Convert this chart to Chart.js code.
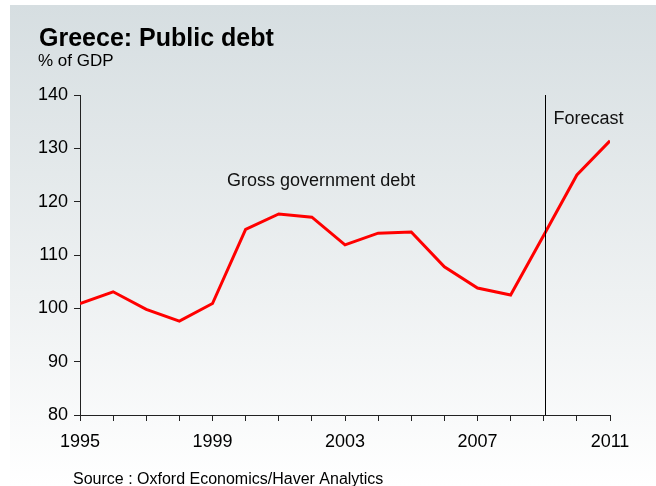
<!DOCTYPE html>
<html>
<head>
<meta charset="utf-8">
<title>Greece: Public debt</title>
<script src="https://cdn.jsdelivr.net/npm/chart.js@4.4.1/dist/chart.umd.min.js"></script>
<style>
  html, body { margin: 0; padding: 0; background: #fff; }
  #wrap { position: relative; width: 656px; height: 486px; overflow: hidden; }
  #bg {
    position: absolute; left: 10px; top: 5px; right: 0; bottom: 0;
    background: linear-gradient(to bottom, #d6dee1 0%, #eef1f2 60%, #ffffff 100%);
  }
  #chart { position: absolute; left: 0; top: 0; }
</style>
</head>
<body>
<div id="wrap">
  <div id="bg"></div>
  <canvas id="chart" width="656" height="486"></canvas>
</div>
<script>
// Gross government debt, % of GDP
const years = [1995, 1996, 1997, 1998, 1999, 2000, 2001, 2002, 2003, 2004, 2005, 2006, 2007, 2008, 2009, 2010, 2011];
const debt = [100.9, 103.1, 99.8, 97.6, 100.9, 114.8, 117.7, 117.1, 111.9, 114.1, 114.3, 107.8, 103.8, 102.5, 113.7, 125.0, 131.4];
const labelYears = [1995, 1999, 2003, 2007, 2011];
const forecastStart = 2009.04;

const FONT = '"Liberation Sans", Arial, sans-serif';

// titles, notes and the forecast divider
const textPlugin = {
  id: 'texts',
  afterDraw(chart) {
    const ctx = chart.ctx;
    const x = chart.scales.x;
    const y = chart.scales.y;
    ctx.save();
    ctx.fillStyle = '#000';
    ctx.textBaseline = 'alphabetic';
    ctx.textAlign = 'left';

    ctx.font = 'bold 25px ' + FONT;
    ctx.fillText('Greece: Public debt', 39, 46);
    ctx.font = '17px ' + FONT;
    ctx.fillText('% of GDP', 38, 66);
    ctx.font = '16px ' + FONT;
    ctx.fillText('Source : Oxford Economics/Haver Analytics', 73, 484);

    // forecast line
    const fx = Math.round(x.getPixelForValue(forecastStart)) + 0.5;
    ctx.strokeStyle = '#000';
    ctx.lineWidth = 1;
    ctx.beginPath();
    ctx.moveTo(fx, chart.chartArea.top);
    ctx.lineTo(fx, chart.chartArea.bottom);
    ctx.stroke();

    ctx.font = '18px ' + FONT;
    ctx.fillStyle = '#111';
    ctx.fillText('Forecast', fx + 8, y.getPixelForValue(134.6));
    ctx.fillText('Gross government debt', x.getPixelForValue(1999.44), y.getPixelForValue(122.9));
    ctx.restore();
  }
};

new Chart(document.getElementById('chart'), {
  type: 'line',
  data: {
    datasets: [{
      data: years.map((yr, i) => ({ x: yr, y: debt[i] })),
      borderColor: '#ff0000',
      borderWidth: 3,
      pointRadius: 0,
      tension: 0,
      fill: false
    }]
  },
  options: {
    responsive: false,
    animation: false,
    devicePixelRatio: 1,
    layout: { padding: { left: 10, right: 46, top: 95, bottom: 0 } },
    plugins: {
      legend: { display: false },
      tooltip: { enabled: false }
    },
    scales: {
      x: {
        type: 'linear',
        min: 1995,
        max: 2011,
        afterFit: s => { s.height = 71; },
        border: { color: '#222', width: 1 },
        grid: { drawOnChartArea: false, tickLength: 6, color: '#222' },
        ticks: {
          stepSize: 1,
          autoSkip: false,
          maxRotation: 0,
          padding: 10,
          color: '#000',
          font: { family: FONT, size: 18 },
          callback: v => labelYears.includes(v) ? String(v) : ''
        }
      },
      y: {
        min: 80,
        max: 140,
        afterFit: s => { s.width = 70; },
        border: { color: '#222', width: 1 },
        grid: { drawOnChartArea: false, tickLength: 6, color: '#222' },
        ticks: {
          stepSize: 10,
          padding: 6,
          color: '#000',
          font: { family: FONT, size: 18 }
        }
      }
    }
  },
  plugins: [textPlugin]
});
</script>
</body>
</html>
